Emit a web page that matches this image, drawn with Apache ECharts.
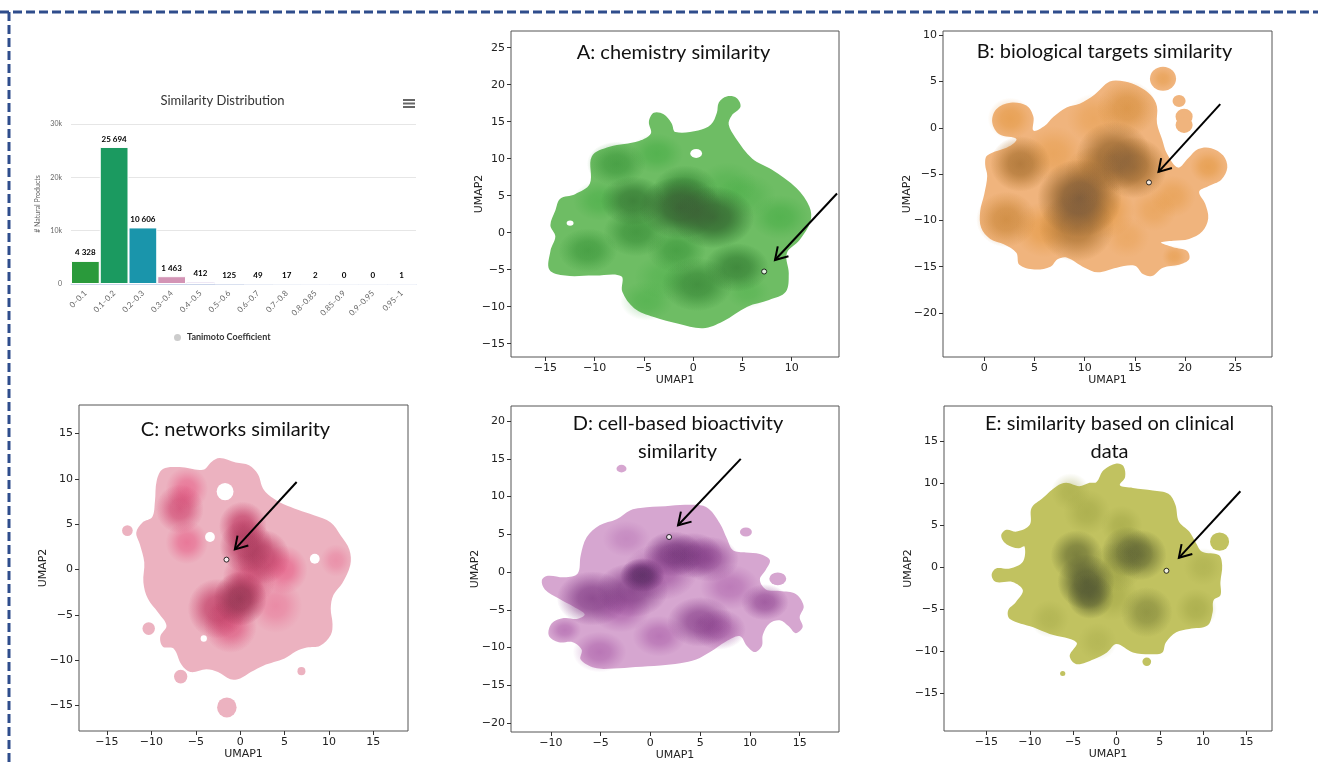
<!DOCTYPE html>
<html>
<head>
<meta charset="utf-8">
<script src="https://cdn.jsdelivr.net/npm/echarts@6/dist/echarts.min.js"></script>
<style>
html,body{margin:0;padding:0;background:#fff;}
#main{width:1318px;height:766px;}
</style>
</head>
<body>
<div id="main"></div>
<script>
// ---- similarity distribution (bar chart) ----
var binLabels = ['0–0.1','0.1–0.2','0.2–0.3','0.3–0.4','0.4–0.5','0.5–0.6','0.6–0.7','0.7–0.8','0.8–0.85','0.85–0.9','0.9–0.95','0.95–1'];
var binCounts = [4328, 25694, 10606, 1463, 412, 125, 49, 17, 2, 0, 0, 1];
var countTicks = [0, 10000, 20000, 30000];
var binColors = ['#2a9a3b','#1b9a60','#1a95ab','#d394b5','#8a5cb6','#6f7fc2','#5fa0c8','#6cbf8a','#a8c86a','#e0b75a','#e08a5a','#c86a8a'];

// ---- UMAP density panels (UMAP units) ----
// outline: lowest filled contour; islands/holes: [x, y, r]; dense: [x, y, r, weight]
var aXRange = [-18.5, 14.8], aYRange = [-16.8, 27.25];
var aXTicks = [-15, -10, -5, 0, 5, 10], aYTicks = [-15, -10, -5, 0, 5, 10, 15, 20, 25];
var aOutline = [[-10.5,6.6],[-10.3,10.3],[-8.5,11.6],[-5.5,12.4],[-4.3,13.4],[-4.5,15.0],[-4.0,16.2],[-3.0,16.0],
  [-2.2,14.8],[-1.8,13.6],[0.5,13.8],[1.8,14.6],[2.4,16.2],[2.6,17.6],[3.4,18.4],[4.4,18.2],[4.8,17.0],[3.9,15.8],
  [3.6,14.6],[4.3,12.8],[6.0,10.0],[8.0,8.5],[10.5,6.0],[11.8,3.5],[11.9,1.5],[10.8,-1.0],[9.5,-2.8],[9.7,-5.5],
  [9.4,-8.0],[7.7,-9.1],[5.5,-10.0],[3.0,-12.0],[1.0,-12.9],[-1.5,-12.3],[-4.0,-11.4],[-6.0,-10.2],[-7.2,-8.0],
  [-7.3,-5.9],[-10.0,-5.8],[-13.0,-5.8],[-14.6,-5.0],[-14.5,-2.5],[-14.0,-0.5],[-14.5,1.0],[-14.0,3.0],[-13.5,4.6],[-12.0,5.2]];
var aIslands = [];
var aHoles = [[0.3,10.7,0.6],[-12.5,1.3,0.35]];
var aDense = [[-1.3,3.4,2.8,1.0],[2.0,2.1,2.8,0.95],[-0.8,5.8,2.2,0.7],[-6.1,4.3,2.2,0.8],[-5.8,0.1,2.2,0.65],
  [-7.8,9.3,2.0,0.6],[-3.7,10.7,1.8,0.45],[-9.5,4.3,1.8,0.4],[-10.7,-2.4,2.0,0.6],[-1.7,-2.4,2.0,0.6],
  [4.4,-4.7,2.2,0.75],[0.4,-7.0,2.4,0.7],[-4.7,-9.2,1.8,0.35],[8.8,2.1,2.0,0.45],[5.4,5.0,2.0,0.3],
  [3.5,6.5,2.0,0.3],[-3,-6,2.0,0.3],[5.5,-8,1.5,0.25]];
var aPoint = [7.2, -5.25];
var aArrow = [14.6, 5.3, 8.3, -3.7];

var bXRange = [-4.1, 28.65], bYRange = [-24.75, 10.45];
var bXTicks = [0, 5, 10, 15, 20, 25], bYTicks = [-20, -15, -10, -5, 0, 5, 10];
var bOutline = [[0.3,-3.0],[2.5,-2.0],[3.2,-1.2],[1.5,-0.7],[0.8,0.6],[1.2,2.0],[2.6,2.7],[4.2,2.4],[4.9,1.2],[4.9,-0.3],
  [6.0,0.2],[6.9,1.2],[8.2,2.2],[9.5,2.6],[11.0,3.6],[12.5,5.0],[14.0,5.0],[15.3,4.5],[16.6,3.5],[17.2,2.3],[17.2,0.5],
  [17.7,-1.2],[18.2,-2.8],[19.3,-4.3],[20.3,-3.3],[21.3,-2.3],[22.6,-2.2],[23.8,-3.0],[24.2,-4.3],[23.6,-5.6],[22.3,-6.3],
  [21.4,-6.9],[22.0,-8.2],[22.3,-9.8],[21.7,-11.2],[20.4,-12.0],[18.8,-12.2],[17.6,-12.4],[18.8,-12.9],[20.2,-13.3],
  [20.4,-14.2],[19.4,-14.8],[17.8,-15.1],[16.7,-16.0],[15.8,-15.8],[15.0,-14.9],[13.2,-15.1],[11.3,-15.6],[10.0,-15.1],
  [8.2,-14.0],[7.3,-14.2],[6.6,-15.0],[5.0,-15.3],[3.5,-14.8],[3.2,-13.5],[2.0,-12.6],[0.6,-12.0],[-0.3,-10.8],
  [-0.4,-9.0],[0.0,-7.2],[0.3,-5.2],[0.1,-4.0]];
var bIslands = [[17.8,5.3,1.3],[19.4,2.9,0.65],[19.9,1.2,0.85],[19.9,0.3,0.85]];
var bHoles = [];
var bDense = [[9.5,-7.6,2.8,1.0],[9.2,-10.7,2.5,0.75],[12.9,-3.1,2.5,0.85],[14.9,-4.3,2.2,0.8],[14.2,2.1,2.0,0.55],
  [3.6,-3.9,2.0,0.75],[2.2,-9.9,2.0,0.6],[2.6,1.0,1.5,0.45],[6.9,-2.8,2.0,0.35],[18.8,-7.4,1.5,0.35],
  [16.9,-8.9,1.5,0.3],[22.3,-4.2,1.2,0.45],[17.8,5.3,0.8,0.35],[18.9,-13.9,0.8,0.35],[14.2,-11.8,1.5,0.25],
  [10.9,1.0,1.8,0.3],[12,-9,2.0,0.5],[6,-11,2.0,0.45],[11,-5,2.0,0.6]];
var bPoint = [16.4, -5.9];
var bArrow = [23.5, 2.55, 17.35, -4.76];

var cXRange = [-18.15, 18.9], cYRange = [-17.8, 18.15];
var cXTicks = [-15, -10, -5, 0, 5, 10, 15], cYTicks = [-15, -10, -5, 0, 5, 10, 15];
var cOutline = [[-8.7,11.1],[-6.8,11.3],[-4.2,11.0],[-3.2,11.9],[-2.3,12.3],[-0.5,11.8],[1.0,11.5],[2.0,10.5],[2.6,8.9],
  [3.8,7.8],[4.9,7.2],[6.5,6.6],[8.3,6.0],[10.2,5.2],[11.3,3.8],[12.3,2.2],[12.4,0.5],[11.5,-1.5],[10.5,-2.8],
  [10.2,-4.3],[10.4,-6.0],[10.2,-7.2],[9.0,-8.4],[7.5,-8.6],[6.3,-9.0],[5.0,-9.8],[3.8,-10.2],[2.6,-10.6],[1.2,-11.3],
  [0.0,-12.0],[-1.1,-12.1],[-2.5,-11.3],[-3.8,-11.0],[-5.6,-11.3],[-6.6,-10.5],[-7.5,-8.7],[-8.7,-8.5],[-9.0,-7.4],
  [-8.3,-6.2],[-9.2,-4.8],[-10.4,-3.2],[-10.9,-1.4],[-10.8,0.8],[-11.3,2.8],[-11.7,4.1],[-11.0,5.2],[-9.9,5.8],
  [-9.6,7.5],[-9.4,9.8]];
var cIslands = [[-12.7,4.3,0.6],[-10.3,-6.5,0.7],[-6.7,-11.8,0.75],[-1.5,-15.2,1.1],[6.9,-11.2,0.45]];
var cHoles = [[-1.7,8.6,0.95],[8.4,1.2,0.55],[-3.4,3.6,0.55],[-4.1,-7.6,0.35]];
var cDense = [[0.0,-3.2,2.0,0.92],[-2.6,-4.3,2.2,0.68],[0.7,2.6,2.0,0.75],[0.3,4.8,1.8,0.68],[2.6,1.4,2.0,0.7],
  [4.9,0.0,1.8,0.5],[-6.8,6.7,1.8,0.6],[-6.0,8.9,1.6,0.45],[-6.0,3.0,1.6,0.45],[-1.1,-6.2,2.0,0.55],
  [1.0,-1.0,2.0,0.6],[10.8,1.0,1.2,0.25],[4,-4,2.0,0.3]];
var cPoint = [-1.54, 1.1];
var cArrow = [6.36, 9.66, -0.6, 2.23];

var dXRange = [-14.0, 18.95], dYRange = [-21.2, 22.0];
var dXTicks = [-10, -5, 0, 5, 10, 15], dYTicks = [-20, -15, -10, -5, 0, 5, 10, 15, 20];
var dOutline = [[11.0,2.4],[12.0,1.6],[11.6,0.3],[11.0,-1.0],[11.6,-2.3],[13.0,-2.5],[14.6,-2.9],[15.4,-4.5],[15.0,-6.0],
  [15.3,-7.3],[14.6,-8.1],[13.9,-7.2],[13.0,-6.4],[12.0,-6.8],[11.3,-8.3],[11.2,-9.8],[10.5,-10.6],[9.7,-9.8],[9.0,-8.5],
  [7.6,-9.2],[6.0,-10.6],[4.6,-11.6],[3.0,-12.1],[1.0,-12.4],[-1.5,-12.6],[-3.7,-12.8],[-5.6,-12.7],[-7.0,-11.6],
  [-6.9,-10.3],[-7.8,-9.3],[-9.2,-9.3],[-10.2,-8.4],[-9.9,-6.8],[-8.7,-6.1],[-7.3,-6.2],[-6.6,-5.6],[-7.7,-4.6],
  [-9.2,-3.5],[-10.6,-2.3],[-10.9,-1.1],[-10.3,-0.5],[-8.6,-0.7],[-7.3,-0.2],[-7.0,2.2],[-6.4,4.6],[-5.1,6.2],
  [-3.4,7.0],[-2.0,8.2],[-1.0,8.5],[1.5,8.7],[3.6,8.9],[5.6,8.6],[7.0,6.4],[7.7,4.4],[8.3,2.9],[9.6,2.6]];
var dIslands = [[9.6,5.3,0.6],[12.8,-0.9,0.85],[-2.9,13.7,0.5]];
var dHoles = [];
var dDense = [[-0.8,-0.4,1.5,1.0],[2.3,2.4,2.0,0.75],[4.3,2.2,2.0,0.65],[5.9,1.7,2.0,0.6],[-5.8,-3.5,2.4,0.7],
  [-1.8,-2.4,2.4,0.7],[5.0,-6.6,2.2,0.65],[6.9,-7.6,1.8,0.55],[0.9,-8.5,1.8,0.45],[-5.1,-10.6,1.8,0.45],
  [-8.6,-7.7,1.1,0.4],[11.5,-4.0,1.6,0.6],[-2.4,4.4,1.6,0.25],[1,0,2.5,0.55],[-3,-5,2.0,0.5],[8,-2,2.0,0.4]];
var dPoint = [1.88, 4.64];
var dArrow = [9.08, 15.0, 2.78, 6.19];

var eXRange = [-19.9, 17.95], eYRange = [-19.55, 19.15];
var eXTicks = [-15, -10, -5, 0, 5, 10, 15], eYTicks = [-15, -10, -5, 0, 5, 10, 15];
var eOutline = [[-2.3,10.1],[-1.5,11.5],[0.0,12.3],[0.8,12.0],[1.0,10.7],[0.4,9.7],[1.9,9.4],[4.2,9.1],[6.0,8.7],[6.8,7.4],
  [7.2,5.4],[8.4,4.2],[9.1,3.0],[9.9,1.8],[11.8,1.4],[12.2,0.2],[12.0,-1.8],[12.0,-3.4],[11.2,-4.0],[11.1,-5.4],
  [10.5,-7.0],[8.4,-7.4],[6.9,-7.8],[5.7,-9.0],[5.3,-10.2],[4.2,-10.4],[1.9,-10.2],[0.0,-9.2],[-1.1,-10.2],[-2.6,-11.0],
  [-4.6,-11.6],[-5.4,-10.6],[-4.6,-9.0],[-7.7,-8.0],[-9.6,-7.2],[-12.3,-6.2],[-12.5,-5.2],[-11.6,-4.2],[-10.8,-2.8],
  [-12.0,-1.8],[-13.9,-1.8],[-14.4,-1.0],[-13.9,-0.2],[-12.3,-0.2],[-10.8,0.6],[-10.6,2.4],[-11.3,2.2],[-12.7,2.7],
  [-13.3,3.7],[-12.7,4.4],[-11.5,4.2],[-10.0,5.0],[-9.8,7.0],[-8.5,8.2],[-6.9,9.6],[-5.8,10.0],[-4.3,9.6],[-3.1,10.0]];
var eIslands = [[11.9,3.0,1.1],[3.5,-11.3,0.5],[-6.2,-12.7,0.3]];
var eHoles = [];
var eDense = [[-3.5,-1.8,2.2,1.0],[-3.0,-3.5,1.8,0.9],[-4.6,1.35,2.0,0.8],[1.3,1.8,2.0,0.8],[2.8,1.4,2.0,0.8],
  [0.6,4.9,1.6,0.5],[-3.4,6.5,1.8,0.5],[-5.3,8.9,1.5,0.4],[3.5,-5.4,2.0,0.65],[9.2,-5.0,1.6,0.5],
  [10.0,0.0,1.5,0.35],[-7.7,-6.2,1.5,0.35],[-2.2,-8.9,1.5,0.3],[-0.5,-3.4,2.0,0.5],[0,0,2.0,0.55]];
var ePoint = [5.77, -0.47];
var eArrow = [14.3, 9.0, 7.2, 1.07];

// ---- helpers ----
function rgba(hex, a) {
  var n = parseInt(hex.slice(1), 16);
  return 'rgba(' + (n >> 16 & 255) + ',' + (n >> 8 & 255) + ',' + (n & 255) + ',' + a + ')';
}
function minusFmt(v) { return v < 0 ? '\u2212' + (-v) : String(v); }
function spaced(v) { return String(v).replace(/\B(?=(\d{3})+(?!\d))/g, ' '); }

function blob(api, fill, k) {
  var c = api.coord([api.value(0), api.value(1)]);
  var s = api.size([api.value(2) * k, api.value(2) * k]);
  return {
    type: 'circle', x: c[0], y: c[1], scaleX: s[0] / s[1], scaleY: 1,
    shape: { cx: 0, cy: 0, r: s[1] }, style: { fill: fill }
  };
}
function solidBlobs(color) {
  return function (params, api) { return blob(api, color, 1); };
}
function softBlobs(color, offset, gain) {
  return function (params, api) {
    var a = Math.max(0, Math.min(1, (api.value(3) - offset) * gain));
    return blob(api, {
      type: 'radial', x: 0.5, y: 0.5, r: 0.5,
      colorStops: [{ offset: 0, color: rgba(color, a) }, { offset: 0.4, color: rgba(color, a * 0.8) },
        { offset: 0.75, color: rgba(color, a * 0.3) }, { offset: 1, color: rgba(color, 0) }]
    }, 1.5);
  };
}
function outlineShape(points, color) {
  return function (params, api) {
    if (params.dataIndex !== 0) return null;
    var pts = points.map(function (p) { return api.coord(p); });
    return { type: 'polygon', shape: { points: pts, smooth: 0.35 }, style: { fill: color } };
  };
}
function arrowItem(params, api) {
  var p1 = api.coord([api.value(0), api.value(1)]);
  var p2 = api.coord([api.value(2), api.value(3)]);
  var ang = Math.atan2(p1[1] - p2[1], p1[0] - p2[0]);
  var L = 14, sp = 0.55;
  var b1 = [p2[0] + L * Math.cos(ang + sp), p2[1] + L * Math.sin(ang + sp)];
  var b2 = [p2[0] + L * Math.cos(ang - sp), p2[1] + L * Math.sin(ang - sp)];
  return { type: 'group', children: [
    { type: 'line', shape: { x1: p1[0], y1: p1[1], x2: p2[0], y2: p2[1] }, style: { stroke: '#000', lineWidth: 2 } },
    { type: 'polyline', shape: { points: [b1, p2, b2] }, style: { stroke: '#000', fill: 'none', lineWidth: 2 } }
  ] };
}

var panels = [
  { xr: aXRange, yr: aYRange, xt: aXTicks, yt: aYTicks, outline: aOutline, islands: aIslands, holes: aHoles, dense: aDense, pt: aPoint, arrow: aArrow,
    pal: ['#6ebd64', '#36a638', '#3d5836'], rect: { left: 511, top: 31, width: 328, height: 326 }, yGap: 26 },
  { xr: bXRange, yr: bYRange, xt: bXTicks, yt: bYTicks, outline: bOutline, islands: bIslands, holes: bHoles, dense: bDense, pt: bPoint, arrow: bArrow,
    pal: ['#f0b47d', '#de8c28', '#6e5541'], rect: { left: 943, top: 31, width: 329, height: 326 }, yGap: 30 },
  { xr: cXRange, yr: cYRange, xt: cXTicks, yt: cYTicks, outline: cOutline, islands: cIslands, holes: cHoles, dense: cDense, pt: cPoint, arrow: cArrow,
    pal: ['#ecb2c0', '#e43269', '#7d3c50'], rect: { left: 79, top: 405, width: 329, height: 326 }, yGap: 30 },
  { xr: dXRange, yr: dYRange, xt: dXTicks, yt: dYTicks, outline: dOutline, islands: dIslands, holes: dHoles, dense: dDense, pt: dPoint, arrow: dArrow,
    pal: ['#d6a6d0', '#963c96', '#5a3264'], rect: { left: 511, top: 406, width: 328, height: 326 }, yGap: 30 },
  { xr: eXRange, yr: eYRange, xt: eXTicks, yt: eYTicks, outline: eOutline, islands: eIslands, holes: eHoles, dense: eDense, pt: ePoint, arrow: eArrow,
    pal: ['#c1c260', '#9ba041', '#505534'], rect: { left: 944, top: 406, width: 328, height: 325 }, yGap: 30 }
];

var grids = [{ left: 71, top: 124, width: 345, height: 160 }];
var xAxes = [{
  gridIndex: 0, type: 'category', data: binLabels,
  axisLine: { lineStyle: { color: '#ccd6eb' } }, axisTick: { show: false },
  axisLabel: { rotate: 45, fontSize: 8, color: '#666', margin: 8, fontFamily: 'Lato', interval: 0 }
}];
var yAxes = [{
  gridIndex: 0, type: 'value', min: countTicks[0], max: countTicks[countTicks.length - 1], interval: 10000,
  axisLabel: { fontSize: 7, color: '#666', margin: 9, fontFamily: 'Lato', formatter: function (v) { return v === 0 ? '0' : (v / 1000) + 'k'; } },
  splitLine: { lineStyle: { color: '#e6e6e6' } },
  name: '# Natural Products', nameLocation: 'middle', nameGap: 30,
  nameTextStyle: { fontSize: 7, color: '#666', fontFamily: 'Lato' }
}];
var series = [{
  name: 'Tanimoto Coefficient', type: 'bar', xAxisIndex: 0, yAxisIndex: 0, barCategoryGap: '0%',
  data: binCounts.map(function (v, i) { return { value: v, itemStyle: { color: binColors[i] } }; }),
  itemStyle: { borderColor: '#fff', borderWidth: 1 },
  label: { show: true, position: 'top', distance: 4, fontSize: 8, fontWeight: 'bold', color: '#000', fontFamily: 'Lato',
    formatter: function (p) { return spaced(p.value); } }
}];

panels.forEach(function (p, k) {
  var gi = k + 1;
  grids.push({ left: p.rect.left, top: p.rect.top, width: p.rect.width, height: p.rect.height,
    show: true, borderColor: '#555', borderWidth: 1, backgroundColor: '#fff' });
  xAxes.push({ gridIndex: gi, type: 'value', min: p.xr[0], max: p.xr[1], splitLine: { show: false },
    axisLine: { show: false, onZero: false },
    axisTick: { show: true, customValues: p.xt, length: 4, lineStyle: { color: '#333' } },
    axisLabel: { customValues: p.xt, formatter: minusFmt, fontSize: 11, color: '#222', margin: 6, fontFamily: 'DejaVu Sans' },
    name: 'UMAP1', nameLocation: 'middle', nameGap: 18, nameMoveOverlap: false,
    nameTextStyle: { fontSize: 11, color: '#222', fontFamily: 'DejaVu Sans' } });
  yAxes.push({ gridIndex: gi, type: 'value', min: p.yr[0], max: p.yr[1], splitLine: { show: false },
    axisLine: { show: false, onZero: false },
    axisTick: { show: true, customValues: p.yt, length: 4, lineStyle: { color: '#333' } },
    axisLabel: { customValues: p.yt, formatter: minusFmt, fontSize: 11, color: '#222', margin: 6, fontFamily: 'DejaVu Sans' },
    name: 'UMAP2', nameLocation: 'middle', nameGap: p.yGap, nameMoveOverlap: false,
    nameTextStyle: { fontSize: 11, color: '#222', fontFamily: 'DejaVu Sans' } });
  var base = { type: 'custom', xAxisIndex: gi, yAxisIndex: gi, silent: true, encode: { x: 0, y: 1 } };
  series.push(Object.assign({}, base, { z: 2, data: p.outline, renderItem: outlineShape(p.outline, p.pal[0]) }));
  if (p.islands.length) series.push(Object.assign({}, base, { z: 2, data: p.islands, renderItem: solidBlobs(p.pal[0]) }));
  series.push(Object.assign({}, base, { z: 3, data: p.dense, renderItem: softBlobs(p.pal[1], 0, 1.0) }));
  series.push(Object.assign({}, base, { z: 4, data: p.dense, renderItem: softBlobs(p.pal[2], 0.5, 1.6) }));
  if (p.holes.length) series.push(Object.assign({}, base, { z: 5, data: p.holes, renderItem: solidBlobs('#ffffff') }));
  series.push({ type: 'scatter', xAxisIndex: gi, yAxisIndex: gi, z: 6, silent: true, data: [p.pt], symbolSize: 5,
    itemStyle: { color: '#fff', borderColor: '#000', borderWidth: 1 } });
  series.push(Object.assign({}, base, { z: 7, data: [p.arrow], renderItem: arrowItem }));
});

function tText(str, x, y, font, color) {
  return { type: 'text', x: x, y: y, z: 20, style: { text: str, font: font || '20px Lato', fill: color || '#111',
    textAlign: 'center', textVerticalAlign: 'middle', align: 'center', verticalAlign: 'middle' } };
}
var dash = { stroke: '#2f4d8c', lineWidth: 3, lineDash: [9, 4] };

var option = {
  animation: false,
  grid: grids, xAxis: xAxes, yAxis: yAxes, series: series,
  legend: { data: [{ name: 'Tanimoto Coefficient', itemStyle: { color: '#cccccc' } }], left: 167, top: 327,
    icon: 'circle', itemWidth: 9, itemHeight: 9, itemGap: 10, selectedMode: false,
    textStyle: { fontSize: 9, fontWeight: 'bold', color: '#333', fontFamily: 'Lato' } },
  graphic: { elements: [
    { type: 'line', shape: { x1: 0, y1: 12, x2: 1318, y2: 12 }, style: dash },
    { type: 'line', shape: { x1: 9, y1: 12, x2: 9, y2: 766 }, style: dash },
    { type: 'rect', shape: { x: 403, y: 99, width: 12, height: 2 }, style: { fill: '#666' } },
    { type: 'rect', shape: { x: 403, y: 102.5, width: 12, height: 2 }, style: { fill: '#666' } },
    { type: 'rect', shape: { x: 403, y: 106, width: 12, height: 2 }, style: { fill: '#666' } },
    tText('Similarity Distribution', 222.5, 101, '13px Lato', '#333'),
    tText('A: chemistry similarity', 673.5, 53),
    tText('B: biological targets similarity', 1104.5, 52),
    tText('C: networks similarity', 235.5, 430),
    tText('D: cell-based bioactivity', 678, 424),
    tText('similarity', 677.5, 452),
    tText('E: similarity based on clinical', 1109.7, 424),
    tText('data', 1109.5, 452)
  ] }
};

var myChart = echarts.init(document.getElementById('main'));
myChart.setOption(option);
</script>
</body>
</html>
